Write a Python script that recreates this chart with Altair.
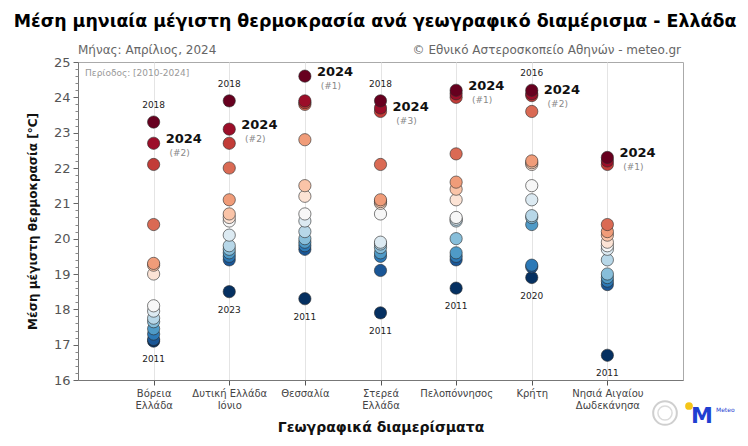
import altair as alt
import pandas as pd

# Regions (tick labels use "|" as a line break)
regions = [
    "Βόρεια|Ελλάδα",
    "Δυτική Ελλάδα|Ιόνιο",
    "Θεσσαλία",
    "Στερεά|Ελλάδα",
    "Πελοπόννησος",
    "Κρήτη",
    "Νησιά Αιγαίου|Δωδεκάνησα",
]
years = list(range(2010, 2025))

# Mean April maximum temperature (°C) per year 2010..2024
north = [17.3, 17.1, 19.0, 17.95, 17.45, 17.15, 20.4, 17.65, 23.3, 17.75, 18.1, 19.25, 19.3, 22.1, 22.7]
west = [19.6, 19.4, 20.6, 20.1, 19.7, 19.5, 22.0, 19.8, 23.9, 20.5, 20.7, 21.1, 22.7, 18.5, 23.1]
thessaly = [20.0, 18.3, 21.2, 20.5, 19.9, 19.7, 23.8, 20.2, 23.9, 19.8, 20.7, 21.5, 22.8, 23.85, 24.6]
central = [19.6, 17.9, 21.0, 19.85, 19.5, 19.1, 23.7, 19.75, 23.9, 19.9, 20.7, 21.05, 21.1, 22.1, 23.6]
pelop = [20.0, 18.6, 21.1, 20.5, 19.6, 19.4, 24.1, 19.5, 24.0, 20.55, 20.6, 21.4, 21.6, 22.4, 24.2]
crete = [20.6, 19.2, 21.1, 20.4, 19.25, 20.65, 24.2, 21.5, 24.05, 22.1, 18.9, 22.15, 22.2, 23.6, 24.1]
aegean = [19.0, 16.7, 19.8, 19.4, 18.8, 18.7, 22.1, 18.9, 22.2, 19.7, 20.1, 19.9, 20.2, 20.4, 22.3]

series = [north, west, thessaly, central, pelop, crete, aegean]
y_ticks = list(range(16, 26))
minor_ticks = [round(16 + 0.2 * i, 1) for i in range(46) if (i % 5) != 0]

title_text = "Μέση μηνιαία μέγιστη θερμοκρασία ανά γεωγραφικό διαμέρισμα - Ελλάδα"
month_text = "Μήνας: Απρίλιος, 2024"
credit_text = "© Εθνικό Αστεροσκοπείο Αθηνών - meteo.gr"
period_text = "Περίοδος: [2010-2024]"

# Diverging red-blue palette, warmest rank first
palette = ["#67001f", "#b2182b", "#d6604d", "#f4a582", "#fddbc7", "#f7f7f7",
           "#d1e5f0", "#92c5de", "#4393c3", "#2166ac", "#053061"]

rows = []
for reg, vals in zip(regions, series):
    for yr, v in zip(years, vals):
        rows.append({"region": reg, "year": yr, "value": v})
df = pd.DataFrame(rows)
df["rank"] = df.groupby("region")["value"].rank(ascending=False, method="first").astype(int)
df = df.sort_values("rank", ascending=False)

# Year of the record high (if not the current year) and record low
top = df.loc[df.groupby("region")["value"].idxmax()]
top = top[top["year"] != 2024].copy()
top["label"] = top["year"].astype(str)
bottom = df.loc[df.groupby("region")["value"].idxmin()].copy()
bottom["label"] = bottom["year"].astype(str)
cur = df[df["year"] == 2024].copy()
cur["label"] = "2024"
cur["rank_label"] = "(#" + cur["rank"].astype(str) + ")"

FONT = "DejaVu Sans"
n_years = len(years)
rank_stops = [1 + (n_years - 1) * i / (len(palette) - 1) for i in range(len(palette))]

x_enc = alt.X(
    "region:N",
    sort=regions,
    scale=alt.Scale(type="point", padding=1),
    axis=alt.Axis(
        title="Γεωγραφικά διαμερίσματα",
        titleFontSize=14,
        titleFontWeight="bold",
        titleColor="#111",
        titlePadding=10,
        labelExpr="split(datum.label, '|')",
        labelAngle=0,
        labelFontSize=10,
        labelColor="#444",
        labelLineHeight=12,
        labelPadding=3,
        tickSize=5,
        tickColor="#555",
        domainColor="#777",
        grid=True,
        gridColor="#e4e4e4",
        gridWidth=1,
    ),
)

y_scale = alt.Scale(domain=[16, 25], nice=False, zero=False)

y_main = alt.Y(
    "value:Q",
    scale=y_scale,
    axis=alt.Axis(
        orient="left",
        values=y_ticks,
        title="Μέση μέγιστη θερμοκρασία [°C]",
        titleFontSize=12,
        titleFontWeight="bold",
        titleColor="#111",
        titlePadding=14,
        labelFontSize=13,
        labelColor="#555",
        labelPadding=3,
        tickSize=5,
        tickColor="#666",
        domainColor="#777",
        grid=False,
    ),
)

y_minor = alt.Y(
    "value:Q",
    scale=y_scale,
    axis=alt.Axis(
        orient="left",
        values=minor_ticks,
        labels=False,
        tickSize=3,
        tickColor="#888",
        domain=False,
        grid=False,
        title=None,
    ),
)

y_plain = alt.Y("value:Q", scale=y_scale, axis=None)

points = alt.Chart(df).mark_circle(
    size=150, opacity=1, stroke="#2a2a2a", strokeWidth=0.6
).encode(
    x=x_enc,
    y=y_main,
    color=alt.Color("rank:Q", scale=alt.Scale(domain=rank_stops, range=palette), legend=None),
    order=alt.Order("rank:Q", sort="descending"),
)

minor = alt.Chart(df).mark_circle(opacity=0).encode(x=x_enc, y=y_minor)

top_lbl = alt.Chart(top).mark_text(
    font=FONT, fontSize=9, color="#222", dy=-17
).encode(x=x_enc, y=y_plain, text="label:N")

bot_lbl = alt.Chart(bottom).mark_text(
    font=FONT, fontSize=9, color="#222", dy=18
).encode(x=x_enc, y=y_plain, text="label:N")

cur_lbl = alt.Chart(cur).mark_text(
    font=FONT, fontSize=13, fontWeight="bold", color="#111", align="left", dx=12, dy=-4
).encode(x=x_enc, y=y_plain, text="label:N")

rank_lbl = alt.Chart(cur).mark_text(
    font=FONT, fontSize=9, color="#888", align="center", dx=26, dy=10
).encode(x=x_enc, y=y_plain, text="rank_label:N")

# Header and footer text, placed relative to the plot area
one = pd.DataFrame({"k": [0]})


def note(text, x, y, **kw):
    return alt.Chart(one).mark_text(font=FONT, **kw).encode(
        x=alt.value(x), y=alt.value(y), text=alt.value(text)
    )


title = note(title_text, 297, -40, fontSize=17.4, fontWeight="bold", color="#000", align="center", baseline="middle")
month = note(month_text, 0, -12, fontSize=12, color="#666", align="left", baseline="middle")
credit = note(credit_text, 603, -12, fontSize=12, color="#666", align="right", baseline="middle")
period = note(period_text, 7, 11, fontSize=9, color="#999", align="left", baseline="middle")

# Footer emblems
seal = alt.Chart(one).mark_point(
    shape="circle", size=560, filled=False, stroke="#bbb", strokeWidth=2
).encode(x=alt.value(587), y=alt.value(351))
seal_core = alt.Chart(one).mark_point(
    shape="circle", size=200, filled=False, stroke="#ccc", strokeWidth=1.5
).encode(x=alt.value(587), y=alt.value(351))
sun = alt.Chart(one).mark_circle(size=60, color="#f5c518", opacity=1).encode(
    x=alt.value(611), y=alt.value(344)
)
m_logo = note("M", 624, 354, fontSize=22, fontWeight="bold", color="#1f3fd1", align="center", baseline="middle")
m_text = note("Meteo", 638, 348, fontSize=6, color="#1f3fd1", align="left", baseline="middle")

chart = (
    alt.layer(
        points, minor, top_lbl, bot_lbl, cur_lbl, rank_lbl,
        title, month, credit, period, seal, seal_core, sun, m_logo, m_text,
    )
    .resolve_axis(y="independent")
    .properties(
        width=605,
        height=318,
        autosize=alt.AutoSizeParams(type="none"),
        padding={"left": 78, "top": 62, "right": 65, "bottom": 66},
    )
    .configure_view(stroke="#aaa", strokeWidth=1)
    .configure_axis(labelFont=FONT, titleFont=FONT)
)

chart.save("out.html", embed_options={"renderer": "svg", "actions": False})
